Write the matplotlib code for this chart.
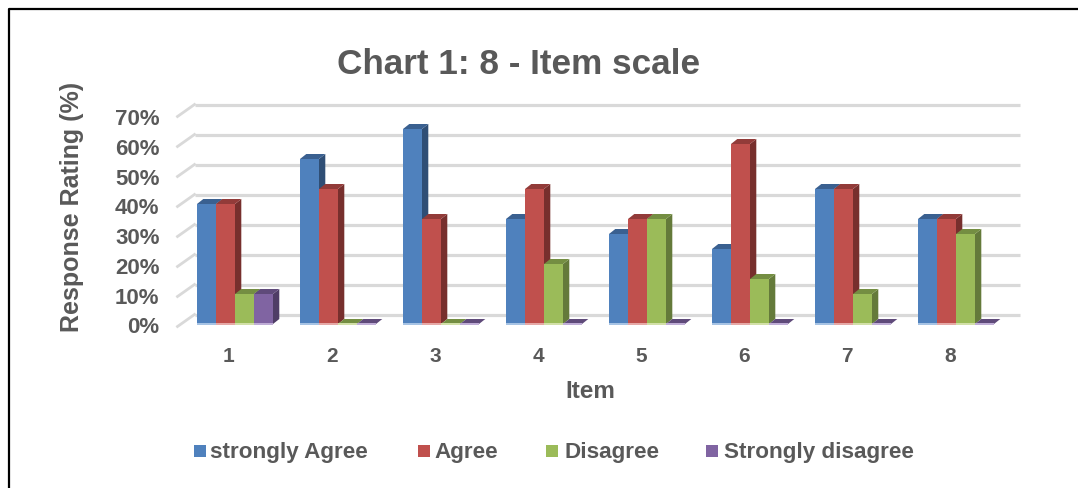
import matplotlib
matplotlib.use("Agg")
import matplotlib.pyplot as plt
from matplotlib.lines import Line2D
from matplotlib.patches import Rectangle

plt.rcParams['font.family'] = ['Liberation Sans', 'DejaVu Sans']

items = ['1', '2', '3', '4', '5', '6', '7', '8']
series_names = ['strongly Agree', 'Agree', 'Disagree', 'Strongly disagree']
strongly_agree = [40, 55, 65, 35, 30, 25, 45, 35]
agree = [40, 45, 35, 45, 35, 60, 45, 35]
disagree = [10, 0, 0, 20, 35, 15, 10, 30]
strongly_disagree = [10, 0, 0, 0, 0, 0, 0, 0]
y_ticks = [0, 10, 20, 30, 40, 50, 60, 70]

front_colors = ['#4F81BD', '#C0504D', '#9BBB59', '#8064A2']
top_colors = ['#3A6090', '#923B39', '#748E42', '#5F4A7A']
side_colors = ['#2F4E75', '#772F2D', '#647A3A', '#4F3D66']
base_colors = ['#A6C3E4', '#E6A9A7', '#D2E0A8', '#BFADD6']
TEXT = '#595959'
GRID = '#D9D9D9'

W, H = 1078, 489
fig = plt.figure(figsize=(W / 100, H / 100), dpi=100, facecolor='white')

# axes box = front plane of the bars, in pixels
L, R, Y0, Y70 = 177.5, 1001.5, 325.0, 115.0
ax = fig.add_axes([L / W, 1 - Y0 / H, (R - L) / W, (Y0 - Y70) / H])
ax.set_xlim(0.5, 8.5)
ax.set_ylim(0, 70)
ax.axis('off')
px_x = 8 / (R - L)        # data units per pixel, x
px_y = 70 / (Y0 - Y70)    # data units per pixel, y

# walls: gridlines on the back wall and slanted lines on the side wall
for v in y_ticks:
    ax.plot([0.5 + 17 * px_x, 0.5 + 842.5 * px_x], [v + 9.5 * px_y] * 2,
            color=GRID, lw=2.3, clip_on=False, zorder=1, solid_capstyle='butt')
    ax.plot([0.5, 0.5 + 17 * px_x], [v - 2.5 * px_y, v + 9.5 * px_y],
            color=GRID, lw=2.0, clip_on=False, zorder=1)

bar_w = 19 * px_x
group_off = 32 * px_x
dx, dy = 6.3 * px_x, 5 * px_y
series = [strongly_agree, agree, disagree, strongly_disagree]

z = 2
for i in range(len(items)):
    c = i + 1
    for s, vals in enumerate(series):
        v = vals[i]
        x0 = c - group_off + s * bar_w
        x1 = x0 + bar_w
        ax.fill([x1, x1 + dx, x1 + dx, x1], [0, dy, v + dy, v],
                color=side_colors[s], lw=0, clip_on=False, zorder=z)
        ax.fill([x0, x0 + dx, x1 + dx, x1], [v, v + dy, v + dy, v],
                color=top_colors[s], lw=0, clip_on=False, zorder=z + 0.1)
        ax.bar(x0, v, width=bar_w, align='edge', color=front_colors[s],
               lw=0, clip_on=False, zorder=z + 0.2)
        ax.bar(x0, 2 * px_y, bottom=-1 * px_y, width=bar_w, align='edge',
               color=base_colors[s], lw=0, clip_on=False, zorder=z + 0.3)
        z += 1

# tick labels (their spacing in the reference is slightly tighter than the bars')
for v in y_ticks:
    ax.text(0.5 - 18 * px_x, v * 0.99 - 2.8 * px_y, f'{v}%', ha='right', va='center',
            fontsize=16, fontweight='bold', color=TEXT, clip_on=False)
for i, lab in enumerate(items):
    ax.text(i + 1, -31.5 * px_y, lab, ha='center', va='center',
            fontsize=15, fontweight='bold', color=TEXT, clip_on=False)

fig.text(519 / W, 1 - 64 / H, 'Chart 1: 8 - Item scale', ha='center', va='center',
         fontsize=25.3, fontweight='bold', color=TEXT)
fig.text(590 / W, 1 - 392 / H, 'Item', ha='center', va='center',
         fontsize=17.5, fontweight='bold', color=TEXT)
fig.text(72 / W, 1 - 207 / H, 'Response Rating (%)', rotation=90, ha='center', va='center',
         fontsize=18, fontweight='bold', color=TEXT)

# legend
xs_sq = [194, 418, 546, 706]
xs_tx = [210, 434, 564, 724]
for s, name in enumerate(series_names):
    fig.add_artist(Rectangle((xs_sq[s] / W, 1 - 458 / H), 12 / W, 12 / H,
                             transform=fig.transFigure, color=front_colors[s], lw=0))
    fig.text(xs_tx[s] / W, 1 - 453 / H, name, ha='left', va='center',
             fontsize=16.2, fontweight='bold', color=TEXT)

# frame: top and left only, running off the picture
fig.add_artist(Line2D([8.5 / W, 8.5 / W, 1], [0, 1 - 9.5 / H, 1 - 9.5 / H],
                      transform=fig.transFigure, color='black', lw=1.6))

fig.savefig('out.png', dpi=100, facecolor='white')
